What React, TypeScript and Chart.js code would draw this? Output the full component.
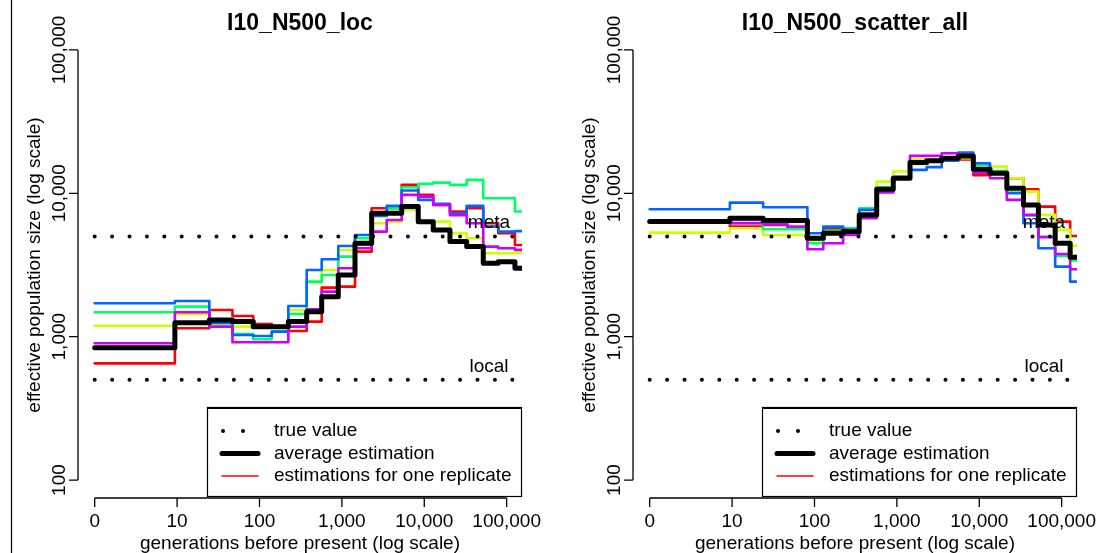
import React, { useEffect, useRef } from "react";
import { Chart, registerables } from "chart.js";

Chart.register(...registerables);

// ---------------- data ----------------
const leftTitle = "I10_N500_loc";
const rightTitle = "I10_N500_scatter_all";

const xTickValues = [1, 10, 100, 1000, 10000, 100000];
const xTickLabels = ["0", "10", "100", "1,000", "10,000", "100,000"];
const yTickValues = [100, 1000, 10000, 100000];
const yTickLabels = ["100", "1,000", "10,000", "100,000"];

const xAxisTitle = "generations before present (log scale)";
const yAxisTitle = "effective population size (log scale)";

const metaValue = 5000;
const localValue = 500;
const refLabelGeneration = 61000;
const metaLabel = "meta";
const localLabel = "local";

const legendLabels = ["true value", "average estimation", "estimations for one replicate"];

const seriesColors = ["#FF0000", "#CCFF00", "#00FF66", "#0066FF", "#CC00FF"];

// interval start generations (last value = end of last interval)
const leftBreaks = [1, 9.4, 24.6, 47, 84, 141, 224, 374, 569, 904, 1443, 2300, 3500, 5320, 8450, 12850, 20500, 32700, 52000, 79000, 126000, 153500];
const rightBreaks = [1, 9.4, 23.8, 47, 82, 128, 223, 349, 569, 904, 1443, 2300, 3500, 5570, 8470, 13500, 21600, 34400, 52200, 83400, 126800, 153500];

const leftAverage = [838, 1253, 1309, 1274, 1175, 1175, 1274, 1493, 1901, 2690, 4487, 7263, 7263, 8075, 6340, 5555, 4605, 4250, 3250, 3335, 3000];
const leftRed = [652, 1146, 1535, 1393, 1227, 1175, 1096, 1273, 2198, 2234, 3920, 7870, 7870, 11450, 9750, 8300, 7460, 7870, 6185, 5265, 4365];
const leftYellow = [1193, 1433, 1207, 1175, 1156, 1165, 1537, 2395, 2920, 4027, 4365, 6185, 6350, 7640, 6350, 6350, 5265, 4855, 3818, 3818, 3840];
const leftGreen = [1480, 1620, 1240, 1045, 959, 1084, 1440, 2420, 2696, 3615, 4855, 7050, 7870, 11020, 11630, 11880, 11450, 12400, 9245, 9245, 7460];
const leftBlue = [1710, 1775, 1253, 1028, 1012, 1084, 1637, 2920, 3467, 4295, 5125, 6955, 8170, 10450, 8995, 8435, 7260, 8170, 5860, 5405, 5450];
const leftMagenta = [899, 1480, 1175, 914, 914, 914, 1175, 1553, 2061, 3000, 4140, 5405, 6520, 9750, 9485, 8300, 7050, 6185, 4250, 4140, 4030];

const rightAverage = [6350, 6700, 6450, 6450, 4855, 5265, 5405, 7070, 10680, 12740, 16380, 16900, 17570, 18240, 14720, 13800, 10840, 8300, 6020, 4485, 3580];
const rightRed = [6300, 5860, 6020, 5660, 4935, 5610, 5300, 7200, 10700, 13000, 16500, 16800, 17500, 17200, 13400, 14200, 12740, 10680, 8070, 6350, 5040];
const rightYellow = [5320, 5705, 5125, 5125, 4700, 5400, 5500, 7700, 12070, 14180, 17300, 17200, 17500, 17600, 14800, 15360, 12740, 10280, 7070, 5555, 4295];
const rightGreen = [6250, 6185, 5610, 5610, 4485, 5500, 5700, 7870, 11000, 13000, 16000, 16600, 17500, 18300, 15780, 14300, 10120, 7000, 5000, 3660, 3400];
const rightBlue = [7740, 8610, 8000, 8000, 5265, 5860, 5555, 7660, 10840, 12740, 14570, 15220, 16900, 19240, 16220, 13800, 10000, 6185, 4140, 3080, 2420];
const rightMagenta = [6250, 6200, 6100, 5860, 4070, 4485, 5125, 6700, 10120, 13000, 18240, 18300, 19050, 18500, 13950, 12740, 8995, 7070, 4935, 3776, 2951];

// ---------------- layout / style ----------------
const FONT = "'Liberation Sans', Arial, Helvetica, sans-serif";
const X_MIN = Math.pow(10, -0.2027);
const X_MAX = 153500;
const Y_MIN = Math.pow(10, 1.875);
const Y_MAX = Math.pow(10, 5.125);

function stepPoints(breaks: number[], vals: number[]) {
  const pts = vals.map((v, i) => ({ x: breaks[i], y: v }));
  pts.push({ x: breaks[breaks.length - 1], y: vals[vals.length - 1] });
  return pts;
}

function buildDatasets(breaks: number[], avg: number[], reps: number[][]) {
  const first = breaks[0];
  const last = breaks[breaks.length - 1];
  const dotted = (v: number) => ({
    data: [
      { x: first, y: v },
      { x: last, y: v },
    ],
    borderColor: "#000",
    borderWidth: 4,
    borderDash: [0, 17.4],
    borderCapStyle: "round",
    pointRadius: 0,
    stepped: false,
  });
  const repSets = reps
    .map((vals, i) => ({
      data: stepPoints(breaks, vals),
      borderColor: seriesColors[i],
      borderWidth: 2.6,
      stepped: true,
      pointRadius: 0,
      borderJoinStyle: "round",
      borderCapStyle: "round",
    }))
    .reverse();
  return [
    dotted(metaValue),
    dotted(localValue),
    {
      data: stepPoints(breaks, avg),
      borderColor: "#000",
      borderWidth: 5,
      stepped: true,
      pointRadius: 0,
      borderJoinStyle: "round",
      borderCapStyle: "round",
    },
    ...repSets,
  ];
}

function makeDecor(title: string, leftBorder: boolean) {
  return {
    id: "rDecor",
    afterDraw(chart: any) {
      const ctx = chart.ctx as CanvasRenderingContext2D;
      const xs = chart.scales.x;
      const ys = chart.scales.y;
      const area = chart.chartArea;
      ctx.save();
      ctx.fillStyle = "#000";
      ctx.strokeStyle = "#000";

      if (leftBorder) {
        ctx.lineWidth = 1.2;
        ctx.beginPath();
        ctx.moveTo(11.5, 0);
        ctx.lineTo(11.5, chart.height);
        ctx.stroke();
      }

      // title
      ctx.font = `bold 23px ${FONT}`;
      ctx.textAlign = "center";
      ctx.textBaseline = "alphabetic";
      ctx.fillText(title, (area.left + area.right) / 2, 30);

      // reference labels
      ctx.font = `19px ${FONT}`;
      const lx = xs.getPixelForValue(refLabelGeneration);
      ctx.fillText(metaLabel, lx, ys.getPixelForValue(metaValue) - 8);
      ctx.fillText(localLabel, lx, ys.getPixelForValue(localValue) - 8);

      // x axis
      ctx.lineWidth = 1.3;
      const axY = area.bottom;
      const xa = xs.getPixelForValue(xTickValues[0]);
      const xb = xs.getPixelForValue(xTickValues[xTickValues.length - 1]);
      ctx.beginPath();
      ctx.moveTo(xa, axY);
      ctx.lineTo(xb, axY);
      xTickValues.forEach((v) => {
        const px = xs.getPixelForValue(v);
        ctx.moveTo(px, axY);
        ctx.lineTo(px, axY + 9);
      });
      ctx.stroke();
      ctx.font = `19px ${FONT}`;
      ctx.textAlign = "center";
      xTickValues.forEach((v, i) => {
        ctx.fillText(xTickLabels[i], xs.getPixelForValue(v), axY + 29);
      });
      ctx.fillText(xAxisTitle, (area.left + area.right) / 2, axY + 51);

      // y axis
      const axX = area.left;
      const ya = ys.getPixelForValue(yTickValues[0]);
      const yb = ys.getPixelForValue(yTickValues[yTickValues.length - 1]);
      ctx.beginPath();
      ctx.moveTo(axX, ya);
      ctx.lineTo(axX, yb);
      yTickValues.forEach((v) => {
        const py = ys.getPixelForValue(v);
        ctx.moveTo(axX, py);
        ctx.lineTo(axX - 9, py);
      });
      ctx.stroke();
      yTickValues.forEach((v, i) => {
        ctx.save();
        ctx.translate(axX - 13, ys.getPixelForValue(v));
        ctx.rotate(-Math.PI / 2);
        ctx.fillText(yTickLabels[i], 0, 0);
        ctx.restore();
      });
      ctx.save();
      ctx.translate(axX - 38, (area.top + area.bottom) / 2);
      ctx.rotate(-Math.PI / 2);
      ctx.fillText(yAxisTitle, 0, 0);
      ctx.restore();

      // legend
      const lw = 315;
      const lh = 90;
      const lLeft = area.right - lw;
      const lTop = area.bottom - 1 - lh;
      ctx.fillStyle = "#fff";
      ctx.fillRect(lLeft, lTop, lw, lh);
      ctx.fillStyle = "#000";
      ctx.lineWidth = 1.2;
      ctx.strokeRect(lLeft + 0.5, lTop + 0.5, lw - 1, lh - 1);
      ctx.lineWidth = 2.2;
      ctx.beginPath();
      ctx.moveTo(lLeft, lTop + 1);
      ctx.lineTo(lLeft + lw, lTop + 1);
      ctx.stroke();

      const rows = [lTop + 24, lTop + 46.5, lTop + 69];
      const sx0 = lLeft + 15;
      const sx1 = lLeft + 51;
      // dots
      [sx0 + 1, sx0 + 21].forEach((dx) => {
        ctx.beginPath();
        ctx.arc(dx, rows[0], 2, 0, Math.PI * 2);
        ctx.fill();
      });
      ctx.lineCap = "round";
      ctx.lineWidth = 5;
      ctx.strokeStyle = "#000";
      ctx.beginPath();
      ctx.moveTo(sx0, rows[1]);
      ctx.lineTo(sx1, rows[1]);
      ctx.stroke();
      ctx.lineWidth = 1.5;
      ctx.strokeStyle = seriesColors[0];
      ctx.beginPath();
      ctx.moveTo(sx0, rows[2]);
      ctx.lineTo(sx1, rows[2]);
      ctx.stroke();

      ctx.font = `19px ${FONT}`;
      ctx.textAlign = "left";
      ctx.fillStyle = "#000";
      legendLabels.forEach((t, i) => {
        ctx.fillText(t, lLeft + 67, rows[i] + 5);
      });

      ctx.restore();
    },
  };
}

function makeConfig(title: string, breaks: number[], avg: number[], reps: number[][], leftBorder: boolean): any {
  return {
    type: "line",
    data: { datasets: buildDatasets(breaks, avg, reps) },
    options: {
      animation: false,
      responsive: false,
      events: [],
      layout: { padding: { left: 78, right: 33, top: 32, bottom: 55 } },
      scales: {
        x: { type: "logarithmic", min: X_MIN, max: X_MAX, display: false, bounds: "data" },
        y: { type: "logarithmic", min: Y_MIN, max: Y_MAX, display: false, bounds: "data" },
      },
      plugins: {
        legend: { display: false },
        tooltip: { enabled: false },
        title: { display: false },
      },
      elements: { point: { radius: 0 }, line: { tension: 0 } },
    },
    plugins: [makeDecor(title, leftBorder)],
  };
}

export default function App() {
  const leftRef = useRef<HTMLCanvasElement>(null);
  const rightRef = useRef<HTMLCanvasElement>(null);

  useEffect(() => {
    const c1 = new Chart(
      leftRef.current as HTMLCanvasElement,
      makeConfig(leftTitle, leftBreaks, leftAverage, [leftRed, leftYellow, leftGreen, leftBlue, leftMagenta], true)
    );
    const c2 = new Chart(
      rightRef.current as HTMLCanvasElement,
      makeConfig(rightTitle, rightBreaks, rightAverage, [rightRed, rightYellow, rightGreen, rightBlue, rightMagenta], false)
    );
    return () => {
      c1.destroy();
      c2.destroy();
    };
  }, []);

  return (
    <div style={{ position: "absolute", left: 0, top: 0, width: 1110, height: 553, background: "#fff", overflow: "hidden" }}>
      <canvas ref={leftRef} width={555} height={553} style={{ position: "absolute", left: 0, top: 0 }} />
      <canvas ref={rightRef} width={555} height={553} style={{ position: "absolute", left: 555, top: 0 }} />
    </div>
  );
}
